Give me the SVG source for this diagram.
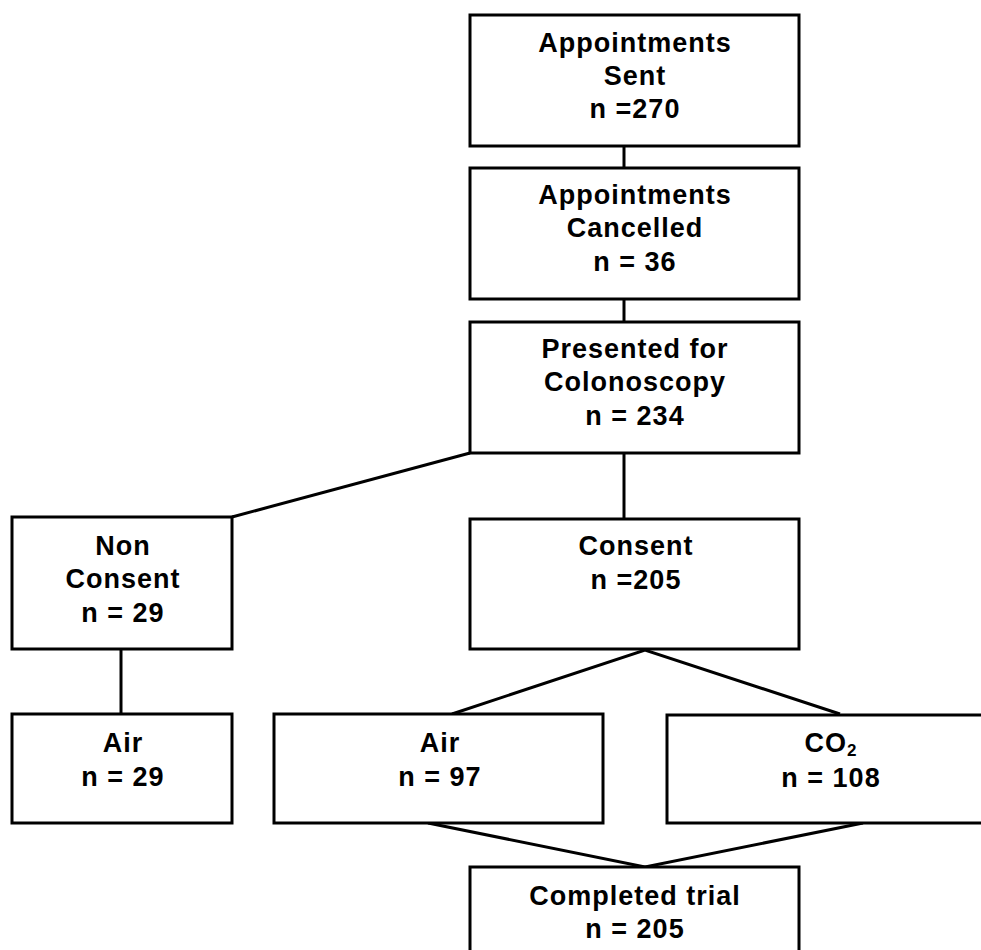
<svg xmlns="http://www.w3.org/2000/svg" width="981" height="950" viewBox="0 0 981 950">
<style>
.box{fill:#fff;stroke:#000;stroke-width:3}
.ln{fill:none;stroke:#000;stroke-width:3}
text{font-family:"Liberation Sans",Arial,sans-serif;font-size:27px;font-weight:bold;fill:#000;text-anchor:middle;letter-spacing:1px}
</style>
<rect width="981" height="950" fill="#fff"/>
<g id="connectors">
<line class="ln" x1="624" y1="146" x2="624" y2="168"/>
<line class="ln" x1="624" y1="299" x2="624" y2="322"/>
<line class="ln" x1="624" y1="453" x2="624" y2="519"/>
<line class="ln" x1="470" y1="453" x2="232" y2="517"/>
<line class="ln" x1="121" y1="649" x2="121" y2="714"/>
<polyline class="ln" points="452,714 645,650 840,714"/>
<polyline class="ln" points="428,823 645,867 863,823"/>
</g>
<g id="sent">
<rect class="box" x="470" y="15" width="329" height="131"/>
<text x="635" y="52">Appointments</text>
<text x="635" y="85">Sent</text>
<text x="635" y="118">n =270</text>
</g>
<g id="cancelled">
<rect class="box" x="470" y="168" width="329" height="131"/>
<text x="635" y="204">Appointments</text>
<text x="635" y="237">Cancelled</text>
<text x="635" y="271">n = 36</text>
</g>
<g id="presented">
<rect class="box" x="470" y="322" width="329" height="131"/>
<text x="635" y="358">Presented for</text>
<text x="635" y="391">Colonoscopy</text>
<text x="635" y="425">n = 234</text>
</g>
<g id="nonconsent">
<rect class="box" x="12" y="517" width="220" height="132"/>
<text x="123" y="555">Non</text>
<text x="123" y="588">Consent</text>
<text x="123" y="622">n = 29</text>
</g>
<g id="consent">
<rect class="box" x="470" y="519" width="329" height="130"/>
<text x="636" y="555">Consent</text>
<text x="636" y="589">n =205</text>
</g>
<g id="air-nc">
<rect class="box" x="12" y="714" width="220" height="109"/>
<text x="123" y="752">Air</text>
<text x="123" y="786">n = 29</text>
</g>
<g id="air">
<rect class="box" x="274" y="714" width="329" height="109"/>
<text x="440" y="752">Air</text>
<text x="440" y="786">n = 97</text>
</g>
<g id="co2">
<rect class="box" x="667" y="715" width="340" height="108"/>
<text x="831" y="752">CO<tspan font-size="17" dy="4">2</tspan></text>
<text x="831" y="787">n = 108</text>
</g>
<g id="completed">
<rect class="box" x="470" y="867" width="329" height="100"/>
<text x="635" y="905">Completed trial</text>
<text x="635" y="938">n = 205</text>
</g>
</svg>
